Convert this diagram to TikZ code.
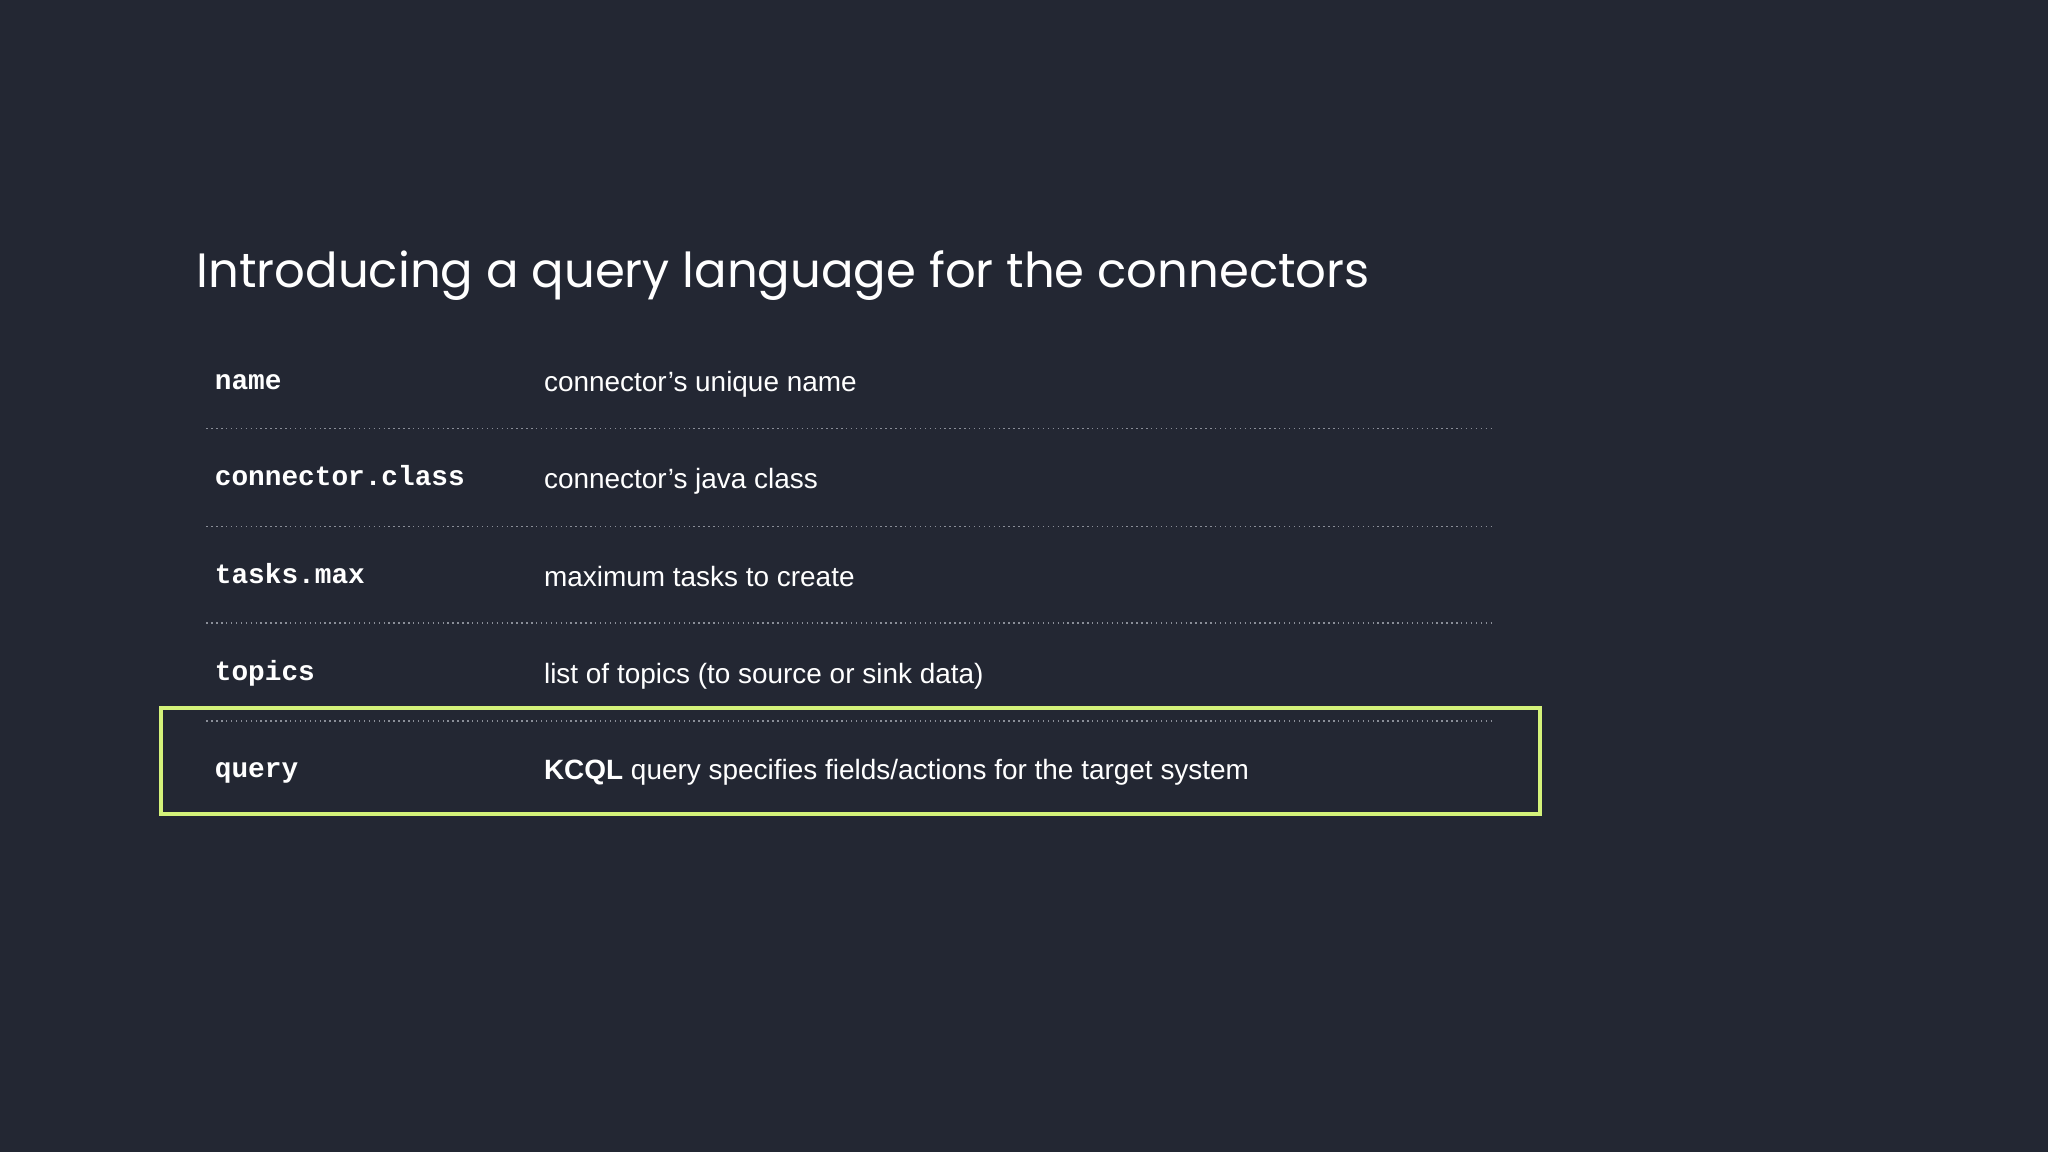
\documentclass[tikz,border=0pt]{standalone}
\usepackage{fontspec}
\setmainfont{Liberation Sans}
\newfontfamily\titlefont{Poppins}
\setmonofont{Liberation Mono}
\definecolor{bg}{HTML}{232733}
\definecolor{hl}{HTML}{D4F27A}
\definecolor{sep}{HTML}{8A8E98}
\begin{document}
\begin{tikzpicture}[x=0.013061cm,y=-0.013061cm,
  key/.style={anchor=base west,inner sep=0,text=white,font=\ttfamily\bfseries\fontsize{7.9}{10}\selectfont},
  desc/.style={anchor=base west,inner sep=0,text=white,font=\fontsize{7.95}{10}\selectfont},
  sepline/.style={sep,densely dotted,line width=0.4pt}]
\fill[bg] (0,0) rectangle (1568,882);
\useasboundingbox (0,0) rectangle (1568,882);
\node[anchor=base west,inner sep=0,text=white,font=\titlefont\fontsize{13.7}{16}\selectfont] (title) at (150,220) {Introducing a query language for the connectors};
\foreach \k/\d/\y [count=\i] in {name/{connector’s unique name}/292, connector.class/{connector’s java class}/366, tasks.max/{maximum tasks to create}/441, topics/{list of topics (to source or sink data)}/515}{
  \node[key] (k\i) at (164,\y+6) {\k};
  \node[desc] (d\i) at (416,\y+8) {\d};
}
\node[key] (k5) at (164,595) {query};
\node[desc] (d5) at (416,597) {\textbf{KCQL} query specifies fields/actions for the target system};
\foreach \y/\n in {328/a,403/b,477/c,552/d}{
  \coordinate (l\n) at (158,\y); \coordinate (r\n) at (1142,\y);
  \draw[sepline] (l\n) -- (r\n);
}
\coordinate (b1) at (123,542); \coordinate (b2) at (1179,623);
\draw[hl,line width=1.1pt] (b1) rectangle (b2);
\end{tikzpicture}
\end{document}
